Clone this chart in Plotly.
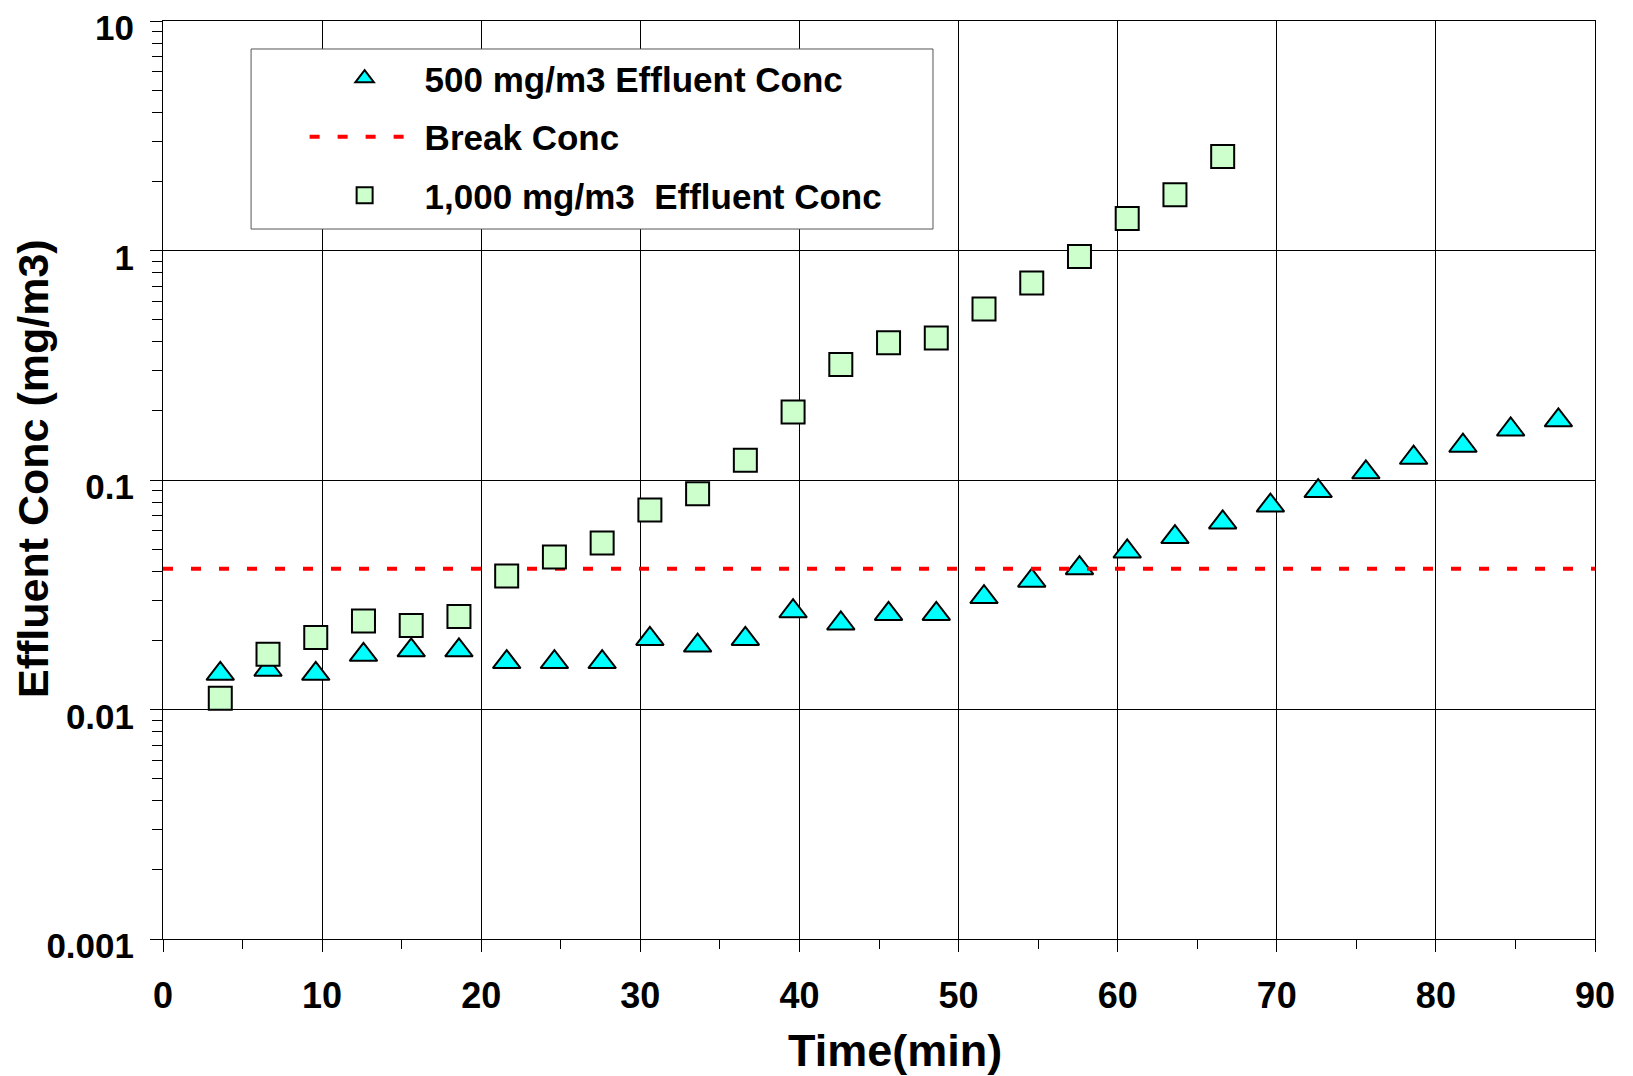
import plotly.graph_objects as go

# ---- data ----
time_500 = [3.6, 6.6, 9.6, 12.6, 15.6, 18.6, 21.6, 24.6, 27.6, 30.6, 33.6, 36.6, 39.6, 42.6, 45.6,
            48.6, 51.6, 54.6, 57.6, 60.6, 63.6, 66.6, 69.6, 72.6, 75.6, 78.6, 81.7, 84.7, 87.7]
conc_500 = [0.0143, 0.0149, 0.0143, 0.0173, 0.0181, 0.0181, 0.0161, 0.0161, 0.0161, 0.0203, 0.0190,
            0.0203, 0.0268, 0.0237, 0.0261, 0.0261, 0.0309, 0.0364, 0.0413, 0.0488, 0.0564, 0.0653,
            0.0774, 0.0895, 0.108, 0.125, 0.141, 0.166, 0.182]

time_1000 = [3.6, 6.6, 9.6, 12.6, 15.6, 18.6, 21.6, 24.6, 27.6, 30.6, 33.6, 36.6, 39.6, 42.6, 45.6,
             48.6, 51.6, 54.6, 57.6, 60.6, 63.6, 66.6]
conc_1000 = [0.0112, 0.0174, 0.0206, 0.0243, 0.0232, 0.0254, 0.0382, 0.0462, 0.0532, 0.0741, 0.0872,
             0.122, 0.198, 0.319, 0.396, 0.416, 0.556, 0.722, 0.942, 1.38, 1.75, 2.57]

break_time = [0, 90]
break_conc = [0.041, 0.041]

x_ticks = [0, 10, 20, 30, 40, 50, 60, 70, 80, 90]
x_minor = [5, 15, 25, 35, 45, 55, 65, 75, 85]
y_ticks = [0.001, 0.01, 0.1, 1, 10]
y_ticklabels = ["0.001", "0.01", "0.1", "1", "10"]
y_minor = [m * 10.0 ** e for e in (-3, -2, -1, 0) for m in range(2, 10)]

x_title = "Time(min)"
y_title = "Effluent Conc (mg/m3)"

FONT = "Liberation Sans, Arial, sans-serif"

fig = go.Figure()

fig.add_trace(go.Scatter(
    x=time_500, y=conc_500, mode="markers", name="500 mg/m3 Effluent Conc",
    legendgroup="a",
    marker=dict(symbol="triangle-up", size=24, color="#00FFFF",
                line=dict(color="black", width=2)),
))
fig.add_trace(go.Scatter(
    x=break_time, y=break_conc, mode="lines", name="Break Conc",
    legendgroup="b",
    line=dict(color="#FF0000", width=4, dash="10px,18px"),
))
fig.add_trace(go.Scatter(
    x=time_1000, y=conc_1000, mode="markers", name="1,000 mg/m3  Effluent Conc",
    legendgroup="c",
    marker=dict(symbol="square", size=23, color="#CCFFCC",
                line=dict(color="black", width=2)),
))

# legend frame
fig.add_shape(type="rect", xref="paper", yref="paper",
              x0=0.0615, x1=0.5377, y0=0.7734, y1=0.9695,
              line=dict(color="#555555", width=1), fillcolor="white", layer="above")

# axis titles as annotations for precise placement
fig.add_annotation(text=x_title, xref="paper", yref="paper", x=0.5, y=0,
                   xanchor="center", yanchor="top", xshift=16, yshift=-84,
                   showarrow=False,
                   font=dict(family=FONT, size=45, color="black", weight="bold"))
fig.add_annotation(text=y_title, xref="paper", yref="paper", x=0, y=0.5,
                   xanchor="center", yanchor="middle", xshift=-130, yshift=11,
                   textangle=-90, showarrow=False,
                   font=dict(family=FONT, size=43, color="black", weight="bold"))

# the page body has an 8px default margin, so the figure is 8px smaller
fig.update_layout(
    width=1625, height=1068,
    margin=dict(l=155, r=38, t=13, b=137),
    paper_bgcolor="white", plot_bgcolor="white",
    font=dict(family=FONT, color="black", weight="bold"),
    showlegend=True,
    legend=dict(
        x=0.0989, y=0.9695, xanchor="left", yanchor="top",
        bgcolor="rgba(0,0,0,0)", borderwidth=0,
        font=dict(family=FONT, size=35, color="black", weight="bold"),
        tracegroupgap=10, traceorder="grouped", itemwidth=110,
    ),
)

fig.update_xaxes(
    range=[0, 90], tickvals=x_ticks, ticktext=[str(v) for v in x_ticks],
    showgrid=True, gridcolor="black", gridwidth=1,
    showline=True, linecolor="black", linewidth=1, mirror=True,
    ticks="outside", ticklen=12, tickcolor="black",
    ticklabelstandoff=13, automargin=False, ticklabeloverflow="allow",
    tickfont=dict(family=FONT, size=36, color="black", weight="bold"),
    minor=dict(tickvals=x_minor, ticks="outside", ticklen=9, tickcolor="black", showgrid=False),
    zeroline=False,
)
fig.update_yaxes(
    type="log", range=[-3, 1], tickvals=y_ticks, ticktext=y_ticklabels,
    showgrid=True, gridcolor="black", gridwidth=1,
    showline=True, linecolor="black", linewidth=1, mirror=True,
    ticks="outside", ticklen=12, tickcolor="black",
    ticklabelstandoff=9, ticklabelshift=7, automargin=False, ticklabeloverflow="allow",
    tickfont=dict(family=FONT, size=35, color="black", weight="bold"),
    minor=dict(tickvals=y_minor, ticks="outside", ticklen=10, tickcolor="black", showgrid=False),
    zeroline=False,
)

fig.write_html("out.html")
